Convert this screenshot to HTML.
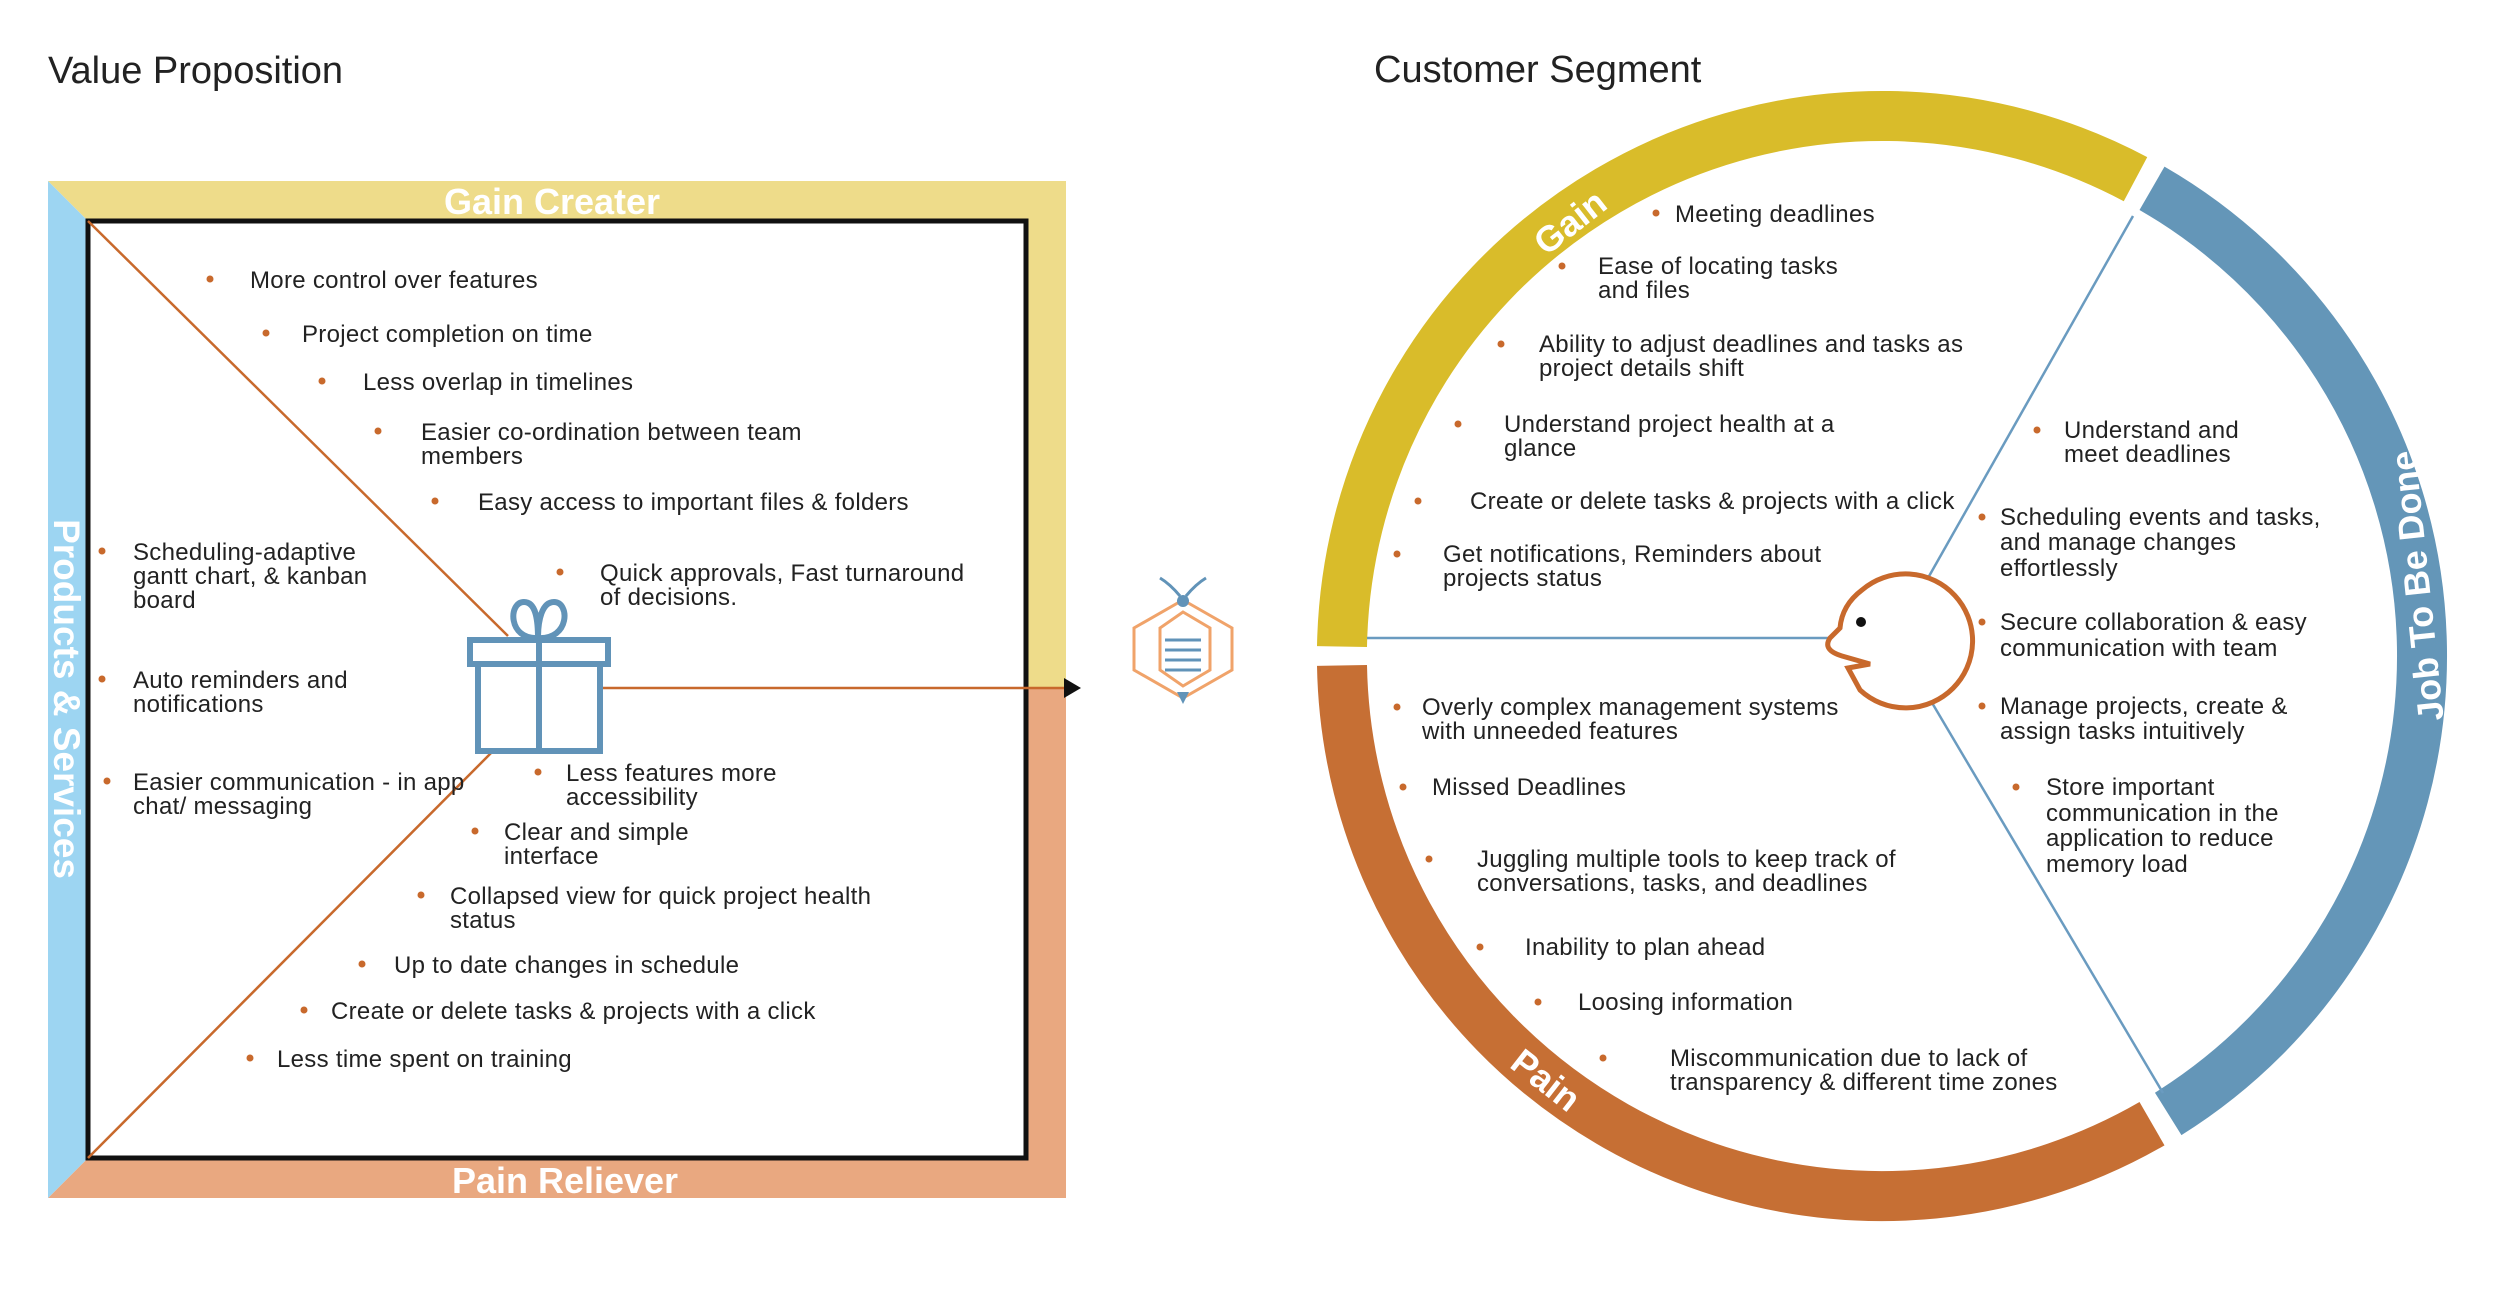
<!DOCTYPE html>
<html><head><meta charset="utf-8"><style>
html,body{margin:0;padding:0;background:#fff;}
svg{display:block;}
text{font-family:"Liberation Sans",sans-serif;}
.t{font-size:24px;fill:#222;letter-spacing:0.3px;}
.b{fill:#C8692C;}
.lbl{font-weight:bold;fill:#fff;}
</style></head><body>
<svg width="2500" height="1291" viewBox="0 0 2500 1291" xmlns="http://www.w3.org/2000/svg">
<rect width="2500" height="1291" fill="#fff"/>
<text x="48" y="83" font-size="38" fill="#222">Value Proposition</text>
<text x="1374" y="82" font-size="38" fill="#222">Customer Segment</text>

<!-- left panel bands -->
<polygon points="48,181 1066,181 1066,688 1026,688 1026,221 88,221" fill="#EEDC8A"/>
<polygon points="1026,688 1066,688 1066,1198 48,1198 88,1158 1026,1158" fill="#E9A880"/>
<polygon points="48,181 88,221 88,1158 48,1198" fill="#9DD5F2"/>
<rect x="88" y="221" width="938" height="937" fill="#fff" stroke="#111" stroke-width="5"/>
<text x="552" y="214" class="lbl" font-size="36" text-anchor="middle">Gain Creater</text>
<text x="565" y="1193" class="lbl" font-size="36" text-anchor="middle">Pain Reliever</text>
<text transform="translate(54,699) rotate(90)" class="lbl" font-size="37" text-anchor="middle">Products &amp; Services</text>

<line x1="88" y1="221" x2="508" y2="636" stroke="#C8692C" stroke-width="2.5"/>
<line x1="88" y1="1158" x2="494" y2="750" stroke="#C8692C" stroke-width="2.5"/>
<line x1="602" y1="688" x2="1064" y2="688" stroke="#C8692C" stroke-width="2.5"/>
<polygon points="1064,678 1081,688 1064,698" fill="#111"/>

<!-- gift -->
<g fill="none" stroke="#6193B8" stroke-width="6">
<rect x="470" y="640" width="138" height="24"/>
<rect x="478" y="664" width="122" height="87"/>
<line x1="539" y1="640" x2="539" y2="751"/>
<path d="M538,638 C508,640 508,602 524,602 C536,602 538,620 538,638 C538,620 542,602 554,602 C570,602 570,640 538,638"/>
</g>

<!-- left texts -->
<g class="t">
<circle class="b" cx="210" cy="279" r="3.5"/><text x="250" y="288">More control over features</text>
<circle class="b" cx="266" cy="333" r="3.5"/><text x="302" y="342">Project completion on time</text>
<circle class="b" cx="322" cy="381" r="3.5"/><text x="363" y="390">Less overlap in timelines</text>
<circle class="b" cx="378" cy="431" r="3.5"/><text x="421" y="440">Easier co-ordination between team</text><text x="421" y="464">members</text>
<circle class="b" cx="435" cy="501" r="3.5"/><text x="478" y="510">Easy access to important files &amp; folders</text>
<circle class="b" cx="560" cy="572" r="3.5"/><text x="600" y="581">Quick approvals, Fast turnaround</text><text x="600" y="605">of decisions.</text>
<circle class="b" cx="102" cy="551" r="3.5"/><text x="133" y="560">Scheduling-adaptive</text><text x="133" y="584">gantt chart, &amp; kanban</text><text x="133" y="608">board</text>
<circle class="b" cx="102" cy="679" r="3.5"/><text x="133" y="688">Auto reminders and</text><text x="133" y="712">notifications</text>
<circle class="b" cx="107" cy="781" r="3.5"/><text x="133" y="790">Easier communication - in app</text><text x="133" y="814">chat/ messaging</text>
<circle class="b" cx="538" cy="772" r="3.5"/><text x="566" y="781">Less features more</text><text x="566" y="805">accessibility</text>
<circle class="b" cx="475" cy="831" r="3.5"/><text x="504" y="840">Clear and simple</text><text x="504" y="864">interface</text>
<circle class="b" cx="421" cy="895" r="3.5"/><text x="450" y="904">Collapsed view for quick project health</text><text x="450" y="928">status</text>
<circle class="b" cx="362" cy="964" r="3.5"/><text x="394" y="973">Up to date changes in schedule</text>
<circle class="b" cx="304" cy="1010" r="3.5"/><text x="331" y="1019">Create or delete tasks &amp; projects with a click</text>
<circle class="b" cx="250" cy="1058" r="3.5"/><text x="277" y="1067">Less time spent on training</text>
</g>

<!-- bee logo -->
<g fill="none" stroke-width="3">
<polygon points="1183,600 1232,628 1232,670 1183,698 1134,670 1134,628" stroke="#F0A36A"/>
<polygon points="1183,612 1210,628 1210,670 1183,686 1160,670 1160,628" stroke="#F0A36A"/>
<path d="M1160,578 q10,6 20,18 M1206,578 q-10,6 -20,18" stroke="#6193B8"/>
<line x1="1165" y1="640" x2="1201" y2="640" stroke="#6193B8"/>
<line x1="1165" y1="650" x2="1201" y2="650" stroke="#6193B8"/>
<line x1="1165" y1="660" x2="1201" y2="660" stroke="#6193B8"/>
<line x1="1165" y1="670" x2="1201" y2="670" stroke="#6193B8"/>
</g>
<circle cx="1183" cy="601" r="6" fill="#6193B8"/>
<polygon points="1177,692 1189,692 1183,704" fill="#6193B8"/>

<!-- ring -->
<g fill="none" stroke-width="50">
<path d="M1342,646.6 A540,540 0 0 1 2135.5,179.2" stroke="#D9BC2A"/>
<path d="M2152,188.3 A540,540 0 0 1 2168.2,1113.9" stroke="#6496B8"/>
<path d="M2152,1123.7 A540,540 0 0 1 1342,665.4" stroke="#C66F34"/>
</g>
<text transform="translate(1570,222) rotate(-38)" class="lbl" font-size="36" text-anchor="middle" dominant-baseline="central">Gain</text>
<text transform="translate(1546,1080) rotate(38)" class="lbl" font-size="36" text-anchor="middle" dominant-baseline="central">Pain</text>
<text transform="translate(2417,586) rotate(-96)" class="lbl" font-size="36" text-anchor="middle" dominant-baseline="central">Job To Be Done</text>

<g stroke="#6A9BC0" stroke-width="2.5">
<line x1="1367" y1="638" x2="1828" y2="638"/>
<line x1="1928" y1="578" x2="2133" y2="216"/>
<line x1="1928" y1="696" x2="2163" y2="1093"/>
</g>
<!-- face -->
<path d="M1862,590 A67,67 0 1 1 1860,690 L1848,668 L1870,664 L1842,656 Q1822,650 1830,638 L1840,628 Q1842,605 1862,590 Z" fill="#fff" stroke="#C8692C" stroke-width="5"/>
<circle cx="1861" cy="622" r="5" fill="#111"/>

<!-- right texts -->
<g class="t">
<circle class="b" cx="1656" cy="213" r="3.5"/><text x="1675" y="222">Meeting deadlines</text>
<circle class="b" cx="1562" cy="266" r="3.5"/><text x="1598" y="274">Ease of locating tasks</text><text x="1598" y="298">and files</text>
<circle class="b" cx="1501" cy="344" r="3.5"/><text x="1539" y="352">Ability to adjust deadlines and tasks as</text><text x="1539" y="376">project details shift</text>
<circle class="b" cx="1458" cy="424" r="3.5"/><text x="1504" y="432">Understand project health at a</text><text x="1504" y="456">glance</text>
<circle class="b" cx="1418" cy="501" r="3.5"/><text x="1470" y="509">Create or delete tasks &amp; projects with a click</text>
<circle class="b" cx="1397" cy="554" r="3.5"/><text x="1443" y="562">Get notifications, Reminders about</text><text x="1443" y="586">projects status</text>

<circle class="b" cx="2037" cy="430" r="3.5"/><text x="2064" y="438">Understand and</text><text x="2064" y="462">meet deadlines</text>
<circle class="b" cx="1982" cy="517" r="3.5"/><text x="2000" y="525">Scheduling events and tasks,</text><text x="2000" y="550">and manage changes</text><text x="2000" y="576">effortlessly</text>
<circle class="b" cx="1982" cy="622" r="3.5"/><text x="2000" y="630">Secure collaboration &amp; easy</text><text x="2000" y="656">communication with team</text>
<circle class="b" cx="1982" cy="706" r="3.5"/><text x="2000" y="714">Manage projects, create &amp;</text><text x="2000" y="739">assign tasks intuitively</text>
<circle class="b" cx="2016" cy="787" r="3.5"/><text x="2046" y="795">Store important</text><text x="2046" y="821">communication in the</text><text x="2046" y="846">application to reduce</text><text x="2046" y="872">memory load</text>

<circle class="b" cx="1397" cy="707" r="3.5"/><text x="1422" y="715">Overly complex management systems</text><text x="1422" y="739">with unneeded features</text>
<circle class="b" cx="1403" cy="787" r="3.5"/><text x="1432" y="795">Missed Deadlines</text>
<circle class="b" cx="1429" cy="859" r="3.5"/><text x="1477" y="867">Juggling multiple tools to keep track of</text><text x="1477" y="891">conversations, tasks, and deadlines</text>
<circle class="b" cx="1480" cy="947" r="3.5"/><text x="1525" y="955">Inability to plan ahead</text>
<circle class="b" cx="1538" cy="1002" r="3.5"/><text x="1578" y="1010">Loosing information</text>
<circle class="b" cx="1603" cy="1058" r="3.5"/><text x="1670" y="1066">Miscommunication due to lack of</text><text x="1670" y="1090">transparency &amp; different time zones</text>
</g>
</svg>
</body></html>
